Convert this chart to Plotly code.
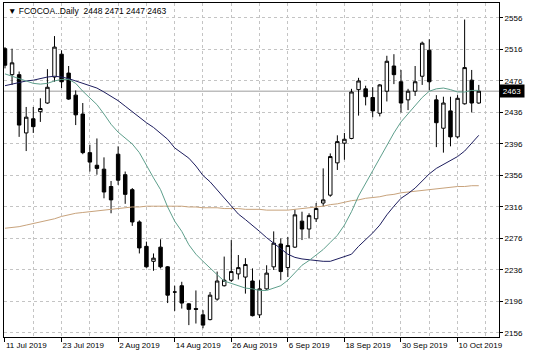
import plotly.graph_objects as go

# ---- data (bar index 0 = 11 Jul 2019) ----
opens = [2517, 2484, 2484, 2410, 2428, 2437, 2448, 2481, 2510, 2486,
         2458, 2434, 2385, 2369, 2364, 2342, 2383, 2357, 2338, 2297,
         2266, 2247, 2265, 2240, 2208, 2216, 2193, 2187, 2179, 2173,
         2199, 2216, 2223, 2231, 2227, 2222, 2179, 2212, 2240, 2269,
         2239, 2265, 2298, 2288, 2301, 2321, 2331, 2372, 2397, 2403,
         2465, 2466, 2455, 2435, 2463, 2495, 2475, 2452, 2463, 2482,
         2515, 2452, 2416, 2438, 2405, 2447, 2477, 2448]
highs = [2519, 2517, 2488, 2443, 2443, 2454, 2491, 2533, 2515, 2495,
         2464, 2448, 2395, 2403, 2379, 2349, 2393, 2361, 2340, 2299,
         2272, 2257, 2275, 2241, 2216, 2221, 2194, 2210, 2185, 2208,
         2234, 2253, 2274, 2255, 2251, 2238, 2223, 2242, 2285, 2276,
         2278, 2313, 2310, 2308, 2321, 2365, 2384, 2407, 2410, 2466,
         2480, 2470, 2468, 2472, 2508, 2510, 2490, 2466, 2495, 2526,
         2529, 2458, 2456, 2456, 2458, 2554, 2490, 2471]
lows = [2492, 2471, 2405, 2387, 2410, 2424, 2447, 2475, 2467, 2452,
        2420, 2383, 2361, 2357, 2327, 2308, 2344, 2320, 2292, 2257,
        2239, 2235, 2238, 2194, 2184, 2187, 2166, 2168, 2162, 2172,
        2197, 2215, 2221, 2224, 2206, 2177, 2175, 2211, 2236, 2223,
        2227, 2264, 2274, 2276, 2297, 2317, 2329, 2363, 2376, 2402,
        2432, 2445, 2430, 2431, 2450, 2472, 2436, 2439, 2457, 2471,
        2464, 2392, 2385, 2393, 2403, 2446, 2436, 2447]
closes = [2496, 2499, 2420, 2430, 2418, 2441, 2468, 2519, 2475, 2453,
          2433, 2385, 2373, 2365, 2335, 2325, 2350, 2332, 2297, 2264,
          2240, 2251, 2240, 2204, 2208, 2194, 2186, 2186, 2166, 2204,
          2222, 2223, 2234, 2239, 2243, 2178, 2212, 2232, 2270, 2234,
          2267, 2306, 2288, 2305, 2314, 2325, 2380, 2399, 2402, 2462,
          2476, 2456, 2438, 2471, 2501, 2484, 2448, 2463, 2475, 2524,
          2475, 2423, 2448, 2405, 2454, 2493, 2448, 2463]

ma_fast = [2485, 2482, 2479, 2476, 2473, 2472, 2473, 2476, 2478, 2478,
           2473, 2463, 2454, 2446, 2434, 2421, 2411, 2403, 2396, 2385,
           2368, 2353, 2338, 2316, 2298, 2285, 2268, 2256, 2247, 2238,
           2230, 2222, 2219, 2216, 2213, 2212, 2210, 2210, 2213, 2216,
           2223, 2233, 2242, 2248, 2255, 2262, 2271, 2280, 2293, 2310,
           2330, 2347, 2362, 2378, 2395, 2410, 2424, 2434, 2444, 2455,
           2463, 2466, 2467, 2465, 2462, 2462, 2464, 2464]
ma_mid = [2470, 2472, 2474, 2476, 2477, 2479, 2481, 2482, 2481, 2479,
          2476, 2473, 2470, 2467, 2462, 2457, 2451, 2444, 2437, 2429,
          2423, 2417, 2410, 2402, 2391, 2384, 2378, 2368, 2356, 2348,
          2338, 2327, 2317, 2307, 2300, 2293, 2285, 2277, 2270, 2262,
          2256, 2252, 2250, 2249, 2248, 2247, 2247, 2250, 2253, 2256,
          2266, 2274, 2283, 2293, 2306, 2317, 2327, 2333, 2340, 2349,
          2358, 2365, 2370, 2374, 2380, 2387, 2397, 2407]
ma_slow = [2289, 2290, 2291, 2293, 2295, 2297, 2299, 2301, 2304, 2306,
           2308, 2309, 2310, 2311, 2312, 2313, 2314, 2315, 2316, 2316,
           2317, 2317, 2317, 2317, 2317, 2317, 2316, 2316, 2315, 2315,
           2315, 2314, 2314, 2314, 2313, 2313, 2313, 2312, 2312, 2312,
           2312, 2313, 2314, 2315, 2316, 2317, 2319, 2320, 2322, 2324,
           2325, 2327, 2328, 2329, 2331, 2332, 2334, 2335, 2336, 2337,
           2338, 2339, 2340, 2341, 2342, 2342, 2343, 2343]

date_labels = ["11 Jul 2019", "23 Jul 2019", "2 Aug 2019", "14 Aug 2019",
               "26 Aug 2019", "6 Sep 2019", "18 Sep 2019", "30 Sep 2019",
               "10 Oct 2019"]
price_ticks = [2156, 2196, 2236, 2276, 2316, 2356, 2396, 2436, 2476, 2516, 2556]
symbol = "FCOCOA..Daily"

n = len(closes)
xs = list(range(n))
label_pos = [i * 8 for i in range(len(date_labels))]
grid_pos = list(range(0, n + 3, 4))

FONT = "Liberation Sans, Arial, sans-serif"
GRID = "#c4c4c4"

fig = go.Figure()
fig.add_trace(go.Candlestick(
    x=xs, open=opens, high=highs, low=lows, close=closes,
    increasing=dict(line=dict(color="black", width=1), fillcolor="white"),
    decreasing=dict(line=dict(color="black", width=1), fillcolor="black"),
    whiskerwidth=0, hoverinfo="skip"))
fig.add_trace(go.Scatter(x=xs, y=ma_slow, mode="lines",
                         line=dict(color="#c8a37c", width=1), hoverinfo="skip"))
fig.add_trace(go.Scatter(x=xs, y=ma_mid, mode="lines",
                         line=dict(color="#1d1d5e", width=1), hoverinfo="skip"))
fig.add_trace(go.Scatter(x=xs, y=ma_fast, mode="lines",
                         line=dict(color="#5e9f8c", width=1), hoverinfo="skip"))

last = closes[-1]
fig.add_shape(type="line", xref="paper", x0=0, x1=1, yref="y", y0=last, y1=last,
              line=dict(color="#bdbdbd", width=1.5), layer="below")

fig.add_annotation(xref="paper", yref="paper", x=0, y=1, xanchor="left", yanchor="top",
                   xshift=2, yshift=-1, showarrow=False,
                   text="▼ " + symbol + "  " + " ".join(str(v) for v in [opens[-1], highs[-1], lows[-1], closes[-1]]),
                   font=dict(family=FONT, size=8.5, color="black"))
fig.add_annotation(xref="paper", yref="y", x=1, y=last, xanchor="left", yanchor="middle",
                   showarrow=False, text=str(last), bgcolor="black", width=24, height=12,
                   font=dict(family=FONT, size=8, color="white"), borderpad=0)

fig.update_layout(
    width=536, height=358,
    margin=dict(l=4, r=37, t=3, b=21),
    paper_bgcolor="white", plot_bgcolor="white", showlegend=False,
    font=dict(family=FONT, size=8, color="black"),
    xaxis=dict(range=[-0.14, 69.86], rangeslider=dict(visible=False),
               tickvals=label_pos, ticktext=date_labels, ticks="outside", ticklen=4,
               tickcolor="black", ticklabelposition="outside right",
               showgrid=True, gridcolor=GRID, griddash="3px,3px", gridwidth=1,
               minor=dict(tickvals=grid_pos, showgrid=True, gridcolor=GRID,
                          griddash="3px,3px", ticks=""),
               showline=True, linecolor="black", linewidth=1, mirror=True,
               zeroline=False, fixedrange=True),
    yaxis=dict(side="right", range=[2150.9, 2575], tickvals=price_ticks,
               ticks="outside", ticklen=3, tickcolor="black",
               showgrid=True, gridcolor=GRID, griddash="3px,3px", gridwidth=1,
               showline=True, linecolor="black", linewidth=1, mirror=True,
               zeroline=False, fixedrange=True),
)

fig.write_html("out.html", config={"displayModeBar": False},
               post_script="document.body.style.margin='0';")
